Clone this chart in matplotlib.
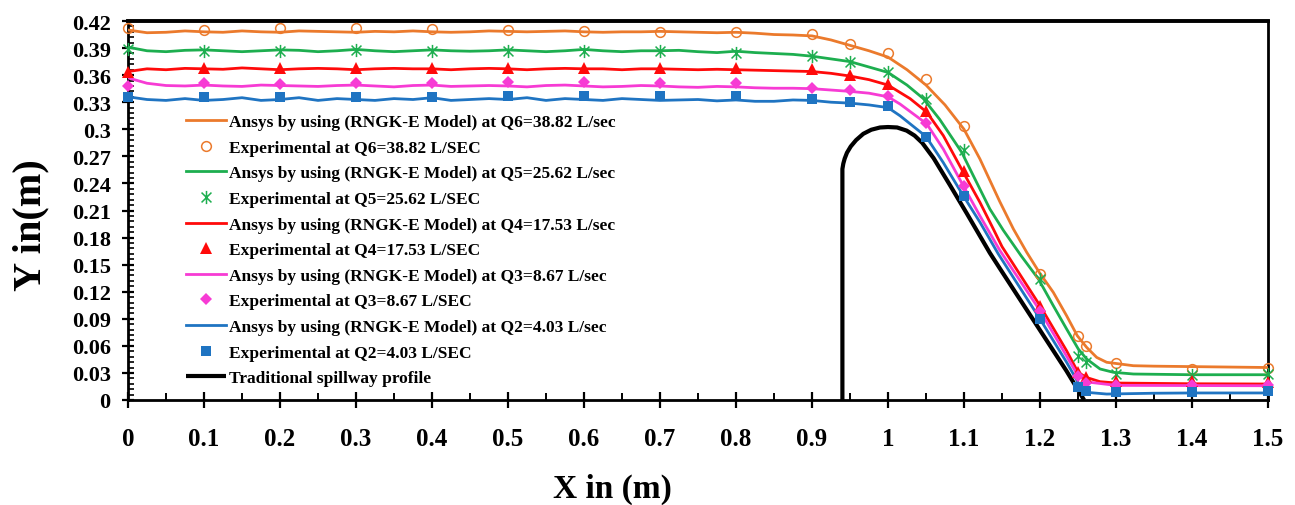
import numpy as np
import matplotlib
matplotlib.use("Agg")
import matplotlib.pyplot as plt
from matplotlib.path import Path
from matplotlib.lines import Line2D

plt.rcParams['font.family'] = ['Liberation Serif', 'DejaVu Serif']
plt.rcParams['font.weight'] = 'bold'

# ---------------- data ----------------
x_flat = [0.0, 0.025, 0.05, 0.075, 0.1, 0.125, 0.15, 0.175, 0.2, 0.225, 0.25, 0.275,
          0.3, 0.325, 0.35, 0.375, 0.4, 0.425, 0.45, 0.475, 0.5, 0.525, 0.55, 0.575,
          0.6, 0.625, 0.65, 0.675, 0.7, 0.725, 0.75, 0.775, 0.8, 0.825, 0.85]

# Ansys Q6 (orange)
q6_flat_y = [0.410, 0.407, 0.4075, 0.409, 0.408, 0.4075, 0.409, 0.408, 0.4075, 0.409,
             0.4085, 0.408, 0.4075, 0.4085, 0.408, 0.409, 0.408, 0.4075, 0.408, 0.409,
             0.4085, 0.408, 0.4085, 0.409, 0.408, 0.4075, 0.408, 0.408, 0.4085, 0.408,
             0.4075, 0.407, 0.4075, 0.4065, 0.405]
q6_curve_x = [0.875, 0.9, 0.925, 0.95, 0.975, 1.0, 1.025, 1.05, 1.075, 1.1, 1.121, 1.147,
              1.165, 1.1825, 1.199, 1.2175, 1.235, 1.249, 1.2614, 1.2746, 1.2877, 1.3228,
              1.35, 1.4, 1.45, 1.5]
q6_curve_y = [0.4045, 0.4035, 0.399, 0.393, 0.387, 0.380, 0.366, 0.349, 0.327, 0.300, 0.267,
              0.220, 0.1895, 0.1637, 0.1415, 0.1193, 0.0934, 0.0713, 0.0583, 0.0472, 0.0418,
              0.038, 0.0375, 0.037, 0.0365, 0.036]

# Ansys Q5 (green)
q5_flat_y = [0.391, 0.387, 0.386, 0.3875, 0.388, 0.387, 0.386, 0.387, 0.388, 0.3875,
             0.386, 0.387, 0.3885, 0.387, 0.386, 0.387, 0.388, 0.387, 0.3865, 0.387,
             0.388, 0.387, 0.386, 0.387, 0.3885, 0.387, 0.386, 0.387, 0.387, 0.3875,
             0.386, 0.385, 0.3865, 0.385, 0.384]
q5_curve_x = [0.875, 0.9, 0.925, 0.95, 0.975, 1.0, 1.025, 1.0465, 1.068, 1.097, 1.1167, 1.134,
              1.1518, 1.175, 1.198, 1.2175, 1.235, 1.2504, 1.2614, 1.279, 1.2965, 1.323, 1.4, 1.5]
q5_curve_y = [0.383, 0.381, 0.378, 0.375, 0.369, 0.363, 0.349, 0.334, 0.311, 0.2745, 0.241,
              0.2117, 0.188, 0.160, 0.134, 0.1045, 0.0787, 0.0565, 0.0454, 0.0344, 0.0307,
              0.0288, 0.028, 0.028]

# Ansys Q4 (red)
q4_flat_y = [0.364, 0.367, 0.366, 0.3675, 0.367, 0.3665, 0.368, 0.367, 0.366, 0.367,
             0.3675, 0.367, 0.366, 0.367, 0.3675, 0.367, 0.367, 0.366, 0.367, 0.3675,
             0.367, 0.366, 0.367, 0.3675, 0.367, 0.367, 0.366, 0.367, 0.367, 0.3665,
             0.366, 0.3665, 0.366, 0.3655, 0.365]
q4_curve_x = [0.875, 0.9, 0.925, 0.95, 0.975, 1.0, 1.029, 1.051, 1.0728, 1.098, 1.121, 1.1386,
              1.15, 1.2, 1.235, 1.25, 1.261, 1.279, 1.301, 1.4, 1.5]
q4_curve_y = [0.3645, 0.364, 0.362, 0.359, 0.355, 0.349, 0.334, 0.319, 0.293, 0.254, 0.219,
              0.1895, 0.170, 0.1045, 0.0546, 0.0307, 0.025, 0.0203, 0.0188, 0.018, 0.0177]

# Ansys Q3 (pink)
q3_flat_y = [0.357, 0.351, 0.3485, 0.348, 0.349, 0.348, 0.3475, 0.349, 0.3485, 0.348,
             0.3475, 0.3485, 0.349, 0.348, 0.347, 0.3485, 0.349, 0.3475, 0.348, 0.3485,
             0.348, 0.347, 0.3485, 0.349, 0.348, 0.347, 0.3475, 0.3485, 0.348, 0.347,
             0.3465, 0.3475, 0.347, 0.346, 0.3455]
q3_curve_x = [0.875, 0.9, 0.925, 0.95, 0.975, 1.0, 1.0158, 1.051, 1.0728, 1.099, 1.121, 1.147,
              1.2, 1.25, 1.266, 1.30, 1.4, 1.5]
q3_curve_y = [0.3455, 0.345, 0.3435, 0.342, 0.340, 0.336, 0.328, 0.306, 0.278, 0.2375, 0.204,
              0.166, 0.099, 0.027, 0.0196, 0.0162, 0.016, 0.0158]

# Ansys Q2 (blue)
q2_flat_y = [0.336, 0.333, 0.332, 0.334, 0.332, 0.333, 0.335, 0.332, 0.333, 0.335,
             0.332, 0.334, 0.333, 0.332, 0.334, 0.333, 0.335, 0.332, 0.333, 0.334,
             0.333, 0.335, 0.332, 0.334, 0.333, 0.332, 0.334, 0.333, 0.332, 0.3325,
             0.333, 0.3315, 0.3325, 0.331, 0.331]
q2_curve_x = [0.875, 0.9, 0.925, 0.95, 0.975, 1.0, 1.0158, 1.05, 1.0728, 1.099, 1.121, 1.145,
              1.2, 1.235, 1.2526, 1.2614, 1.2877, 1.35, 1.4, 1.5]
q2_curve_y = [0.3325, 0.332, 0.330, 0.329, 0.327, 0.324, 0.315, 0.292, 0.263, 0.2264, 0.197,
              0.162, 0.0898, 0.0418, 0.0158, 0.0085, 0.0066, 0.0075, 0.0078, 0.0078]

# Experimental points
exp_x = [0.0, 0.1, 0.2, 0.3, 0.4, 0.5, 0.6, 0.7, 0.8, 0.9, 0.95, 1.0, 1.05, 1.1, 1.2,
         1.25, 1.26, 1.3, 1.4, 1.5]
exp_q6 = [0.412, 0.410, 0.412, 0.412, 0.411, 0.410, 0.409, 0.4075, 0.4075, 0.4056, 0.3946,
          0.384, 0.356, 0.3036, 0.1396, 0.0705, 0.060, 0.0405, 0.0344, 0.035]
exp_q5 = [0.389, 0.387, 0.387, 0.388, 0.387, 0.387, 0.387, 0.387, 0.385, 0.381, 0.375,
          0.363, 0.3336, 0.277, 0.134, 0.049, 0.042, 0.0285, 0.028, 0.029]
exp_q4 = [0.364, 0.368, 0.368, 0.368, 0.368, 0.3676, 0.3676, 0.3676, 0.3676, 0.3668, 0.360,
          0.350, 0.320, 0.254, 0.1045, 0.0307, 0.025, 0.0214, 0.0214, 0.020]
exp_q3 = [0.348, 0.351, 0.350, 0.351, 0.351, 0.3527, 0.3527, 0.351, 0.351, 0.3454, 0.343,
          0.3365, 0.3065, 0.2375, 0.099, 0.027, 0.019, 0.017, 0.017, 0.017]
exp_q2 = [0.3355, 0.336, 0.336, 0.336, 0.336, 0.3366, 0.3366, 0.3366, 0.3366, 0.3336, 0.330,
          0.3255, 0.292, 0.2264, 0.0898, 0.014, 0.0103, 0.0092, 0.0092, 0.0096]

# Traditional spillway profile
prof_x = [0.94, 0.94, 0.9412, 0.943, 0.946, 0.951, 0.958, 0.9675, 0.978, 0.9895, 1.0, 1.012,
          1.0246, 1.035, 1.045, 1.06, 1.0816, 1.1035, 1.134, 1.147, 1.191, 1.235, 1.258]
prof_y = [0.0, 0.256, 0.262, 0.2675, 0.274, 0.281, 0.288, 0.295, 0.2995, 0.302, 0.3025,
          0.302, 0.2985, 0.293, 0.285, 0.268, 0.238, 0.207, 0.163, 0.146, 0.089, 0.032, 0.0]

ansys_labels = ["Ansys by using (RNGK-E Model) at Q6=38.82 L/sec",
                "Ansys by using (RNGK-E Model) at Q5=25.62 L/sec",
                "Ansys by using (RNGK-E Model) at Q4=17.53 L/sec",
                "Ansys by using (RNGK-E Model) at Q3=8.67 L/sec",
                "Ansys by using (RNGK-E Model) at Q2=4.03 L/sec"]
exp_labels = ["Experimental at Q6=38.82 L/SEC",
              "Experimental at Q5=25.62 L/SEC",
              "Experimental at Q4=17.53 L/SEC",
              "Experimental at Q3=8.67 L/SEC",
              "Experimental at Q2=4.03 L/SEC"]
profile_label = "Traditional spillway profile"

x_ticks = [0.0, 0.1, 0.2, 0.3, 0.4, 0.5, 0.6, 0.7, 0.8, 0.9, 1.0, 1.1, 1.2, 1.3, 1.4, 1.5]
x_tick_labels = ["0", "0.1", "0.2", "0.3", "0.4", "0.5", "0.6", "0.7", "0.8", "0.9",
                 "1", "1.1", "1.2", "1.3", "1.4", "1.5"]
y_ticks = [0.0, 0.03, 0.06, 0.09, 0.12, 0.15, 0.18, 0.21, 0.24, 0.27, 0.3, 0.33, 0.36, 0.39, 0.42]
y_tick_labels = ["0", "0.03", "0.06", "0.09", "0.12", "0.15", "0.18", "0.21", "0.24", "0.27",
                 "0.3", "0.33", "0.36", "0.39", "0.42"]

# ---------------- styling ----------------
colors = ['#EB7A2C', '#1DAE4F', '#FF0A0A', '#F73BD4', '#1F74C2']

star = Path([(0, -1), (0, 1), (-0.75, -0.75), (0.75, 0.75), (-0.75, 0.75), (0.75, -0.75)],
            [Path.MOVETO, Path.LINETO, Path.MOVETO, Path.LINETO, Path.MOVETO, Path.LINETO])

marker_styles = [
    dict(marker='o', markersize=7, markerfacecolor='none', markeredgewidth=1.1),
    dict(marker=star, markersize=9.5, markerfacecolor='none', markeredgewidth=1.1),
    dict(marker='^', markersize=8, markeredgewidth=0),
    dict(marker='D', markersize=6, markeredgewidth=0),
    dict(marker='s', markersize=6.5, markeredgewidth=0),
]

W, H = 1295, 506
fig = plt.figure(figsize=(W / 100, H / 100), dpi=100)
ax = fig.add_axes([128 / W, (H - 401) / H, 1140 / W, 379 / H])

ansys_x = [x_flat + q6_curve_x, x_flat + q5_curve_x, x_flat + q4_curve_x,
           x_flat + q3_curve_x, x_flat + q2_curve_x]
ansys_y = [q6_flat_y + q6_curve_y, q5_flat_y + q5_curve_y, q4_flat_y + q4_curve_y,
           q3_flat_y + q3_curve_y, q2_flat_y + q2_curve_y]
exp_y = [exp_q6, exp_q5, exp_q4, exp_q3, exp_q2]

handles = []
prof_line, = ax.plot(prof_x, prof_y, color='black', lw=3.0, zorder=2,
                     solid_capstyle='butt', solid_joinstyle='round', label=profile_label)
for i in range(5):
    ln, = ax.plot(ansys_x[i], ansys_y[i], color=colors[i], lw=2.0, zorder=3,
                  label=ansys_labels[i])
    mk, = ax.plot(exp_x, exp_y[i], linestyle='none', color=colors[i],
                  markeredgecolor=colors[i], zorder=4, clip_on=False,
                  label=exp_labels[i], **marker_styles[i])
    handles += [ln, mk]
handles.append(prof_line)

ax.set_xlim(0, 1.5)
ax.set_ylim(0, 0.42)

ax.set_xticks(x_ticks)
ax.set_xticklabels(x_tick_labels)
ax.set_yticks(y_ticks)
ax.set_yticklabels(y_tick_labels)
ax.set_xticks([0.05 + 0.1 * k for k in range(15)], minor=True)
ax.set_yticks([0.006 * k for k in range(71)], minor=True)

ax.tick_params(axis='x', which='major', direction='inout', length=11, width=1.6,
               pad=14, labelsize=18)
ax.tick_params(axis='x', which='minor', direction='in', length=5, width=1.4)
ax.tick_params(axis='y', which='major', direction='inout', length=9, width=1.6,
               pad=8, labelsize=16)
ax.tick_params(axis='y', which='minor', direction='in', length=4, width=1.2)
for lab in ax.get_xticklabels() + ax.get_yticklabels():
    lab.set_fontweight('bold')

for side in ['left', 'right', 'bottom']:
    ax.spines[side].set_linewidth(2.0)
ax.spines['top'].set_linewidth(2.8)

ax.set_xlabel("X in (m)", fontsize=24, fontweight='bold')
ax.xaxis.set_label_coords((612 - 128) / 1140, (401 - 474) / 379)
ax.set_ylabel("Y in(m)", fontsize=29, fontweight='bold')
ax.yaxis.set_label_coords((49 - 128) / 1140, (401 - 225) / 379)

leg = fig.legend(handles=handles, loc='upper left',
                 bbox_to_anchor=(186 / W, 1 - 115 / H), bbox_transform=fig.transFigure,
                 frameon=False, fontsize=12.5, handlelength=2.3, handletextpad=0.15,
                 labelspacing=0.545, borderpad=0, borderaxespad=0, numpoints=1)
for t in leg.get_texts():
    t.set_fontweight('bold')

fig.savefig("out.png", dpi=100)
